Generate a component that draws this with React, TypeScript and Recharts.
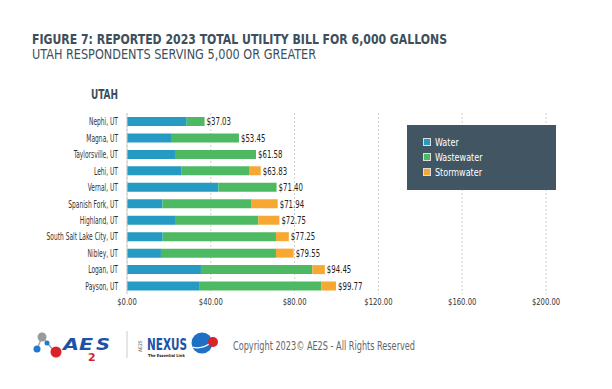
import React from 'react';
import { BarChart, Bar, XAxis, YAxis, CartesianGrid, LabelList } from 'recharts';

const cities = [
  'Nephi, UT',
  'Magna, UT',
  'Taylorsville, UT',
  'Lehi, UT',
  'Vernal, UT',
  'Spanish Fork, UT',
  'Highland, UT',
  'South Salt Lake City, UT',
  'Nibley, UT',
  'Logan, UT',
  'Payson, UT',
];
const water = [28.5, 21.0, 22.9, 26.1, 43.6, 16.9, 22.9, 17.0, 16.2, 35.3, 34.4];
const wastewater = [8.53, 32.45, 38.68, 32.13, 27.8, 42.3, 39.8, 54.1, 54.9, 53.2, 58.3];
const stormwater = [0, 0, 0, 5.6, 0, 12.74, 10.05, 6.15, 8.45, 5.95, 7.07];
const totals = [37.03, 53.45, 61.58, 63.83, 71.4, 71.94, 72.75, 77.25, 79.55, 94.45, 99.77];
const xTicks = [0, 40, 80, 120, 160, 200];

const data = cities.map((city, i) => ({
  city,
  water: water[i],
  wastewater: wastewater[i],
  stormwater: stormwater[i],
  total: totals[i],
}));

const FONT = '"Liberation Sans Narrow", "DejaVu Sans Condensed", sans-serif';
const COLORS = { water: '#259ac3', wastewater: '#4eb963', stormwater: '#f7a833' };

const CityTick = (props: any) => {
  const { x, y, payload } = props;
  return (
    <g transform={`translate(${x},${y})`}>
      <text textAnchor="end" dy={4} transform="scale(0.6,1)" fontSize={11} fill="#333" fontFamily={FONT}>
        {payload.value}
      </text>
    </g>
  );
};

const MoneyTick = (props: any) => {
  const { x, y, payload } = props;
  return (
    <g transform={`translate(${x},${y})`}>
      <text textAnchor="middle" dy={3} transform="scale(0.8,1)" fontSize={9.5} fill="#333" fontFamily={FONT}>
        ${payload.value.toFixed(2)}
      </text>
    </g>
  );
};

// label sits on the wastewater segment; its end is pushed out by the stormwater share
const TotalLabel = (props: any) => {
  const { x, y, width, height, index } = props;
  const pxPerUnit = width / wastewater[index];
  const endX = x + width + stormwater[index] * pxPerUnit;
  return (
    <g transform={`translate(${endX + 2},${y + height / 2})`}>
      <text dy={3.8} transform="scale(0.74,1)" fontSize={10.5} fill="#222" fontFamily={FONT}>
        ${totals[index].toFixed(2)}
      </text>
    </g>
  );
};

const legendItems = [
  { name: 'Water', color: COLORS.water },
  { name: 'Wastewater', color: COLORS.wastewater },
  { name: 'Stormwater', color: COLORS.stormwater },
];

export default function App() {
  return (
    <div style={{ position: 'absolute', left: 0, top: 0, width: 612, height: 389, background: '#fff', overflow: 'hidden' }}>
      <svg width={612} height={389} style={{ position: 'absolute', left: 0, top: 0 }}>
        <text x={32} y={44} fontFamily={FONT} fontWeight="bold" fontSize={14} fill="#3d4f5c" textLength={415} lengthAdjust="spacingAndGlyphs">
          FIGURE 7: REPORTED 2023 TOTAL UTILITY BILL FOR 6,000 GALLONS
        </text>
        <text x={32} y={59} fontFamily={FONT} fontSize={14} fill="#3d4f5c" textLength={284} lengthAdjust="spacingAndGlyphs">
          UTAH RESPONDENTS SERVING 5,000 OR GREATER
        </text>
        <text x={91} y={99} fontFamily={FONT} fontWeight="bold" fontSize={13.5} fill="#3d4f5c" textLength={27} lengthAdjust="spacingAndGlyphs">
          UTAH
        </text>

        {/* AE2S logo */}
        <line x1={42} y1={337} x2={37} y2={349} stroke="#aaa" strokeWidth={1.5} />
        <line x1={42} y1={337} x2={55} y2={352} stroke="#aaa" strokeWidth={1.5} />
        <circle cx={42} cy={337} r={4.5} fill="#9a9a9a" />
        <circle cx={37} cy={349} r={3.5} fill="#1f7ad0" />
        <circle cx={47} cy={343} r={2.5} fill="#1f7ad0" />
        <circle cx={56} cy={352} r={5.5} fill="#d8232a" />
        <text x={63} y={350} fontFamily="DejaVu Sans" fontWeight="bold" fontStyle="italic" fontSize={16} fill="#1c53a8" textLength={30} lengthAdjust="spacingAndGlyphs">AE</text>
        <text x={88} y={361} fontFamily="DejaVu Sans" fontWeight="bold" fontSize={11} fill="#d8232a">2</text>
        <text x={96} y={350} fontFamily="DejaVu Sans" fontWeight="bold" fontStyle="italic" fontSize={16} fill="#1c53a8" textLength={14} lengthAdjust="spacingAndGlyphs">S</text>
        <line x1={127} y1={331} x2={127} y2={358} stroke="#ccc" strokeWidth={1} />

        {/* Nexus logo */}
        <text transform="translate(142,352) rotate(-90)" fontFamily={FONT} fontSize={5} fill="#555">AE2S</text>
        <text x={147} y={350} fontFamily={FONT} fontWeight="bold" fontSize={15} fill="#1c53a8" textLength={40} lengthAdjust="spacingAndGlyphs">NEXUS</text>
        <text x={148} y={357} fontFamily={FONT} fontWeight="bold" fontSize={4} fill="#222">The Essential Link</text>
        <circle cx={202} cy={343} r={10.5} fill="#1f6fc4" />
        <path d="M192,347 Q202,350 212,342" stroke="#fff" strokeWidth={1.3} fill="none" />
        <circle cx={213} cy={342} r={5} fill="#d8232a" />

        <text x={233} y={350} fontFamily={FONT} fontSize={12} fill="#666" textLength={182} lengthAdjust="spacingAndGlyphs">
          Copyright 2023© AE2S - All Rights Reserved
        </text>
      </svg>

      <div style={{ position: 'absolute', left: 0, top: 0 }}>
        <BarChart
          width={612}
          height={389}
          data={data}
          layout="vertical"
          barSize={9}
          margin={{ top: 113, right: 66, left: 17, bottom: 75 }}
        >
          <CartesianGrid horizontal={false} stroke="#cfcfcf" strokeDasharray="2 2" />
          <XAxis
            type="number"
            domain={[0, 200]}
            ticks={xTicks}
            axisLine={false}
            tickLine={false}
            tick={<MoneyTick />}
            height={20}
            interval={0}
          />
          <YAxis
            type="category"
            dataKey="city"
            width={110}
            axisLine={{ stroke: '#cccccc' }}
            tickLine={false}
            tickMargin={3}
            tick={<CityTick />}
            interval={0}
          />
          <Bar dataKey="water" stackId="a" fill={COLORS.water} isAnimationActive={false} />
          <Bar dataKey="wastewater" stackId="a" fill={COLORS.wastewater} isAnimationActive={false}>
            <LabelList dataKey="total" content={<TotalLabel />} />
          </Bar>
          <Bar dataKey="stormwater" stackId="a" fill={COLORS.stormwater} isAnimationActive={false} />
        </BarChart>
      </div>

      <div
        style={{
          position: 'absolute',
          left: 407,
          top: 125,
          width: 149,
          height: 65,
          background: '#415563',
        }}
      >
        {legendItems.map((item, i) => (
          <div key={item.name} style={{ position: 'absolute', left: 16, top: 12 + i * 15, height: 10, display: 'flex', alignItems: 'center' }}>
            <div style={{ width: 8, height: 8, background: item.color, border: '0.5px solid #ddd', boxSizing: 'border-box' }} />
            <span
              style={{
                marginLeft: 4,
                fontFamily: FONT,
                fontSize: 10.5,
                color: '#fff',
                display: 'inline-block',
                transform: 'scaleX(0.85)',
                transformOrigin: 'left center',
              }}
            >
              {item.name}
            </span>
          </div>
        ))}
      </div>
    </div>
  );
}
